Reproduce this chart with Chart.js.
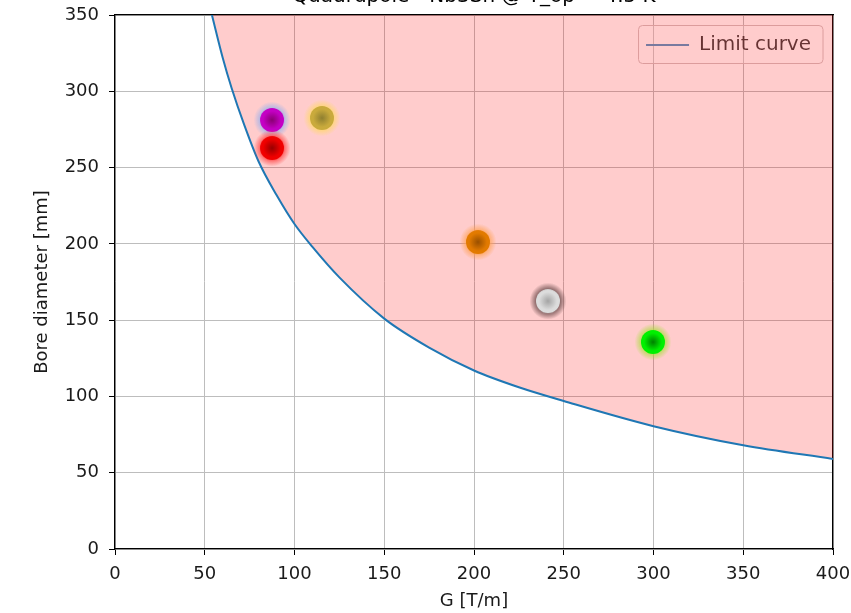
<!DOCTYPE html>
<html>
<head>
<meta charset="utf-8">
<script src="https://cdn.jsdelivr.net/npm/chart.js@4.4.1/dist/chart.umd.min.js"></script>
<style>
html, body { margin: 0; padding: 0; background: #fff; overflow: hidden; }
#wrap { position: relative; width: 851px; height: 613px; }
</style>
</head>
<body>
<div id="wrap"><canvas id="chart"></canvas></div>
<script>
// limit curve (G in T/m, bore in mm)
var curveG = [54, 60, 65, 72, 80, 90, 100, 110, 125, 150, 175, 200, 225, 250, 300, 350, 400];
var curveD = [350, 322, 302, 278, 254, 232, 213, 198, 178, 151, 132, 117, 106, 97, 80.5, 68, 59];

// the six designs
var pointG = [87.5, 87.5, 115.3, 202.2, 241.2, 299.7];
var pointD = [281.2, 262.8, 282.5, 201.2, 162.5, 135.7];

var xTicks = [0, 50, 100, 150, 200, 250, 300, 350, 400];
var yTicks = [0, 50, 100, 150, 200, 250, 300, 350];

// core, centre, glow (rgb)
var markerStyles = [
	['#c400c4', '#8a0072', [150, 175, 235]],
	['#f00000', '#980000', [255, 60, 60]],
	['#c9aa3c', '#8f7f30', [255, 215, 100]],
	['#e27a00', '#9a5000', [255, 160, 80]],
	['#dcdcdc', '#a4a4a4', [90, 60, 60]],
	['#00f000', '#008000', [170, 220, 60]],
];

function makeMarker(s){
	var c = document.createElement('canvas');
	c.width = 40; c.height = 40;
	var g = c.getContext('2d');
	var rgb = s[2].join(',');
	var grad = g.createRadialGradient(20, 20, 10, 20, 20, 18.5);
	grad.addColorStop(0, 'rgba(' + rgb + ',0.9)');
	grad.addColorStop(1, 'rgba(' + rgb + ',0)');
	g.fillStyle = grad;
	g.beginPath(); g.arc(20, 20, 18.5, 0, Math.PI * 2); g.fill();
	grad = g.createRadialGradient(20, 20, 0, 20, 20, 12);
	grad.addColorStop(0, s[1]);
	grad.addColorStop(0.75, s[0]);
	grad.addColorStop(1, s[0]);
	g.fillStyle = grad;
	g.beginPath(); g.arc(20, 20, 12, 0, Math.PI * 2); g.fill();
	return c;
}

var font = 'DejaVu Sans';
var legendPad = 18;

// move the legend to the top right corner of the axes and frame it
var legendBox = {
	id: 'legendBox',
	afterLayout(chart){
		var lg = chart.legend;
		if(!lg || !lg.legendHitBoxes.length) return;
		var hb = lg.legendHitBoxes[0];
		var area = chart.chartArea;
		lg.left = area.right - 10 - 12 - hb.width - legendPad;
		lg.right = lg.left + lg.width;
		lg.top = area.top + 20 - legendPad;
		lg.bottom = lg.top + lg.height;
	},
	beforeDatasetsDraw(chart){
		var lg = chart.legend;
		if(!lg || !lg.legendHitBoxes.length) return;
		var hb = lg.legendHitBoxes[0];
		var x = lg.left + legendPad - 7.5;
		var y = lg.top + legendPad - 9.5;
		var ctx = chart.ctx;
		ctx.save();
		ctx.strokeStyle = '#d4c4c4';
		ctx.lineWidth = 1;
		ctx.fillStyle = 'rgba(255,255,255,0.25)';
		ctx.beginPath();
		ctx.roundRect(x, y, hb.width + 7.5 + 12, hb.height + 18, 4);
		ctx.fill();
		ctx.stroke();
		ctx.restore();
	}
};

function fixSide(s){
	s.paddingLeft = 0; s.paddingRight = 0;
	s.paddingTop = 0; s.paddingBottom = 0;
}

var chart = new Chart(document.getElementById('chart'), {
	type: 'scatter',
	data: {
		datasets: [{
			type: 'line',
			label: 'Limit curve',
			data: curveG.map((g, i) => ({x: g, y: curveD[i]})),
			borderColor: '#1f77b4',
			borderWidth: 2,
			backgroundColor: 'rgba(255,0,0,0.2)',
			fill: 'end',
			pointRadius: 0,
			cubicInterpolationMode: 'monotone',
			order: 1,
		}, {
			label: 'designs',
			data: pointG.map((g, i) => ({x: g, y: pointD[i]})),
			pointStyle: markerStyles.map(makeMarker),
			pointRadius: 12,
			order: 0,
		}]
	},
	options: {
		responsive: true,
		maintainAspectRatio: false,
		animation: false,
		layout: { padding: { left: 0, right: 18, top: 0, bottom: 0 } },
		plugins: {
			title: {
				display: true,
				text: 'Quadrupole - Nb3Sn @ T_op = 4.5 K',
				color: '#000',
				fullSize: false,
				font: { family: font, size: 20, weight: 'normal' },
				padding: { top: -15, bottom: 6 },
			},
			legend: {
				position: 'chartArea',
				align: 'start',
				labels: {
					filter: item => item.text === 'Limit curve',
					usePointStyle: true,
					pointStyle: 'line',
					pointStyleWidth: 43,
					color: '#000',
					font: { family: font, size: 20 },
					padding: legendPad,
				}
			},
			tooltip: { enabled: false },
		},
		scales: {
			x: {
				type: 'linear',
				position: 'bottom',
				min: 0, max: 400,
				afterBuildTicks: s => { s.ticks = xTicks.map(v => ({value: v})); },
				afterFit: s => { s.height = 64; fixSide(s); },
				grid: { color: '#bdbdbd', lineWidth: 1, tickColor: '#000', tickLength: 6 },
				border: { color: '#000', width: 1.3 },
				ticks: { color: '#1a1a1a', font: { family: font, size: 18 }, padding: 9, maxRotation: 0 },
				title: { display: true, text: 'G [T/m]', color: '#1a1a1a', font: { family: font, size: 18 }, padding: { top: 1, bottom: 1 } },
			},
			y: {
				type: 'linear',
				position: 'left',
				min: 0, max: 350,
				afterBuildTicks: s => { s.ticks = yTicks.map(v => ({value: v})); },
				afterFit: s => { s.width = 115; fixSide(s); },
				grid: { color: '#bdbdbd', lineWidth: 1, tickColor: '#000', tickLength: 6 },
				border: { color: '#000', width: 1.3 },
				ticks: { color: '#1a1a1a', font: { family: font, size: 18 }, padding: 10 },
				title: { display: true, text: 'Bore diameter [mm]', color: '#1a1a1a', font: { family: font, size: 18 }, padding: { top: 32, bottom: 0 } },
			},
			x2: {
				type: 'linear',
				position: 'top',
				afterFit: s => { s.height = 0; fixSide(s); },
				ticks: { display: false },
				grid: { display: false },
				border: { color: '#000', width: 1.3 },
			},
			y2: {
				type: 'linear',
				position: 'right',
				afterFit: s => { s.width = 0; fixSide(s); },
				ticks: { display: false },
				grid: { display: false },
				border: { color: '#000', width: 1.3 },
			},
		}
	},
	plugins: [legendBox]
});
</script>
</body>
</html>
